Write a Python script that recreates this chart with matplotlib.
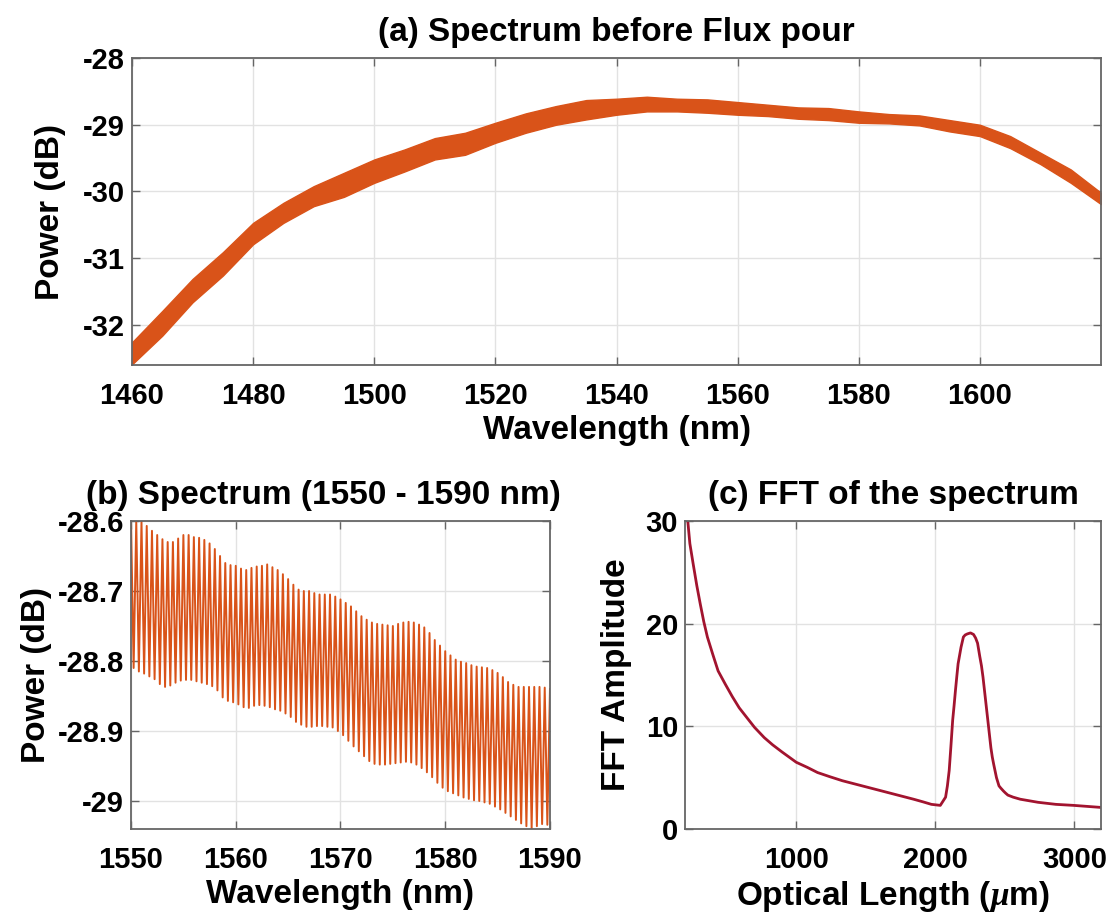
import numpy as np
import matplotlib
matplotlib.use("Agg")
import matplotlib.pyplot as plt
from matplotlib.ticker import FuncFormatter

plt.rcParams["font.family"] = ["Liberation Sans", "DejaVu Sans"]
plt.rcParams["font.weight"] = "bold"
plt.rcParams["axes.unicode_minus"] = False
plt.rcParams["mathtext.fontset"] = "custom"
plt.rcParams["mathtext.rm"] = "Liberation Sans:bold"
plt.rcParams["mathtext.it"] = "Liberation Serif:italic"

ORANGE = "#D95319"
CRIMSON = "#A2142F"

# (a) full spectrum: band edges
wl_a = [1460, 1465, 1470, 1475, 1480, 1485, 1490, 1495, 1500, 1505, 1510,
        1515, 1520, 1525, 1530, 1535, 1540, 1545, 1550, 1555, 1560, 1565,
        1570, 1575, 1580, 1585, 1590, 1595, 1600, 1605, 1610, 1615, 1620]
upper_a = [-32.26, -31.79, -31.31, -30.91, -30.47, -30.17, -29.92, -29.72,
           -29.52, -29.37, -29.20, -29.12, -28.97, -28.83, -28.72, -28.63,
           -28.61, -28.58, -28.61, -28.62, -28.66, -28.70, -28.74, -28.75,
           -28.80, -28.84, -28.86, -28.93, -29.00, -29.17, -29.42, -29.67,
           -30.02]
lower_a = [-32.59, -32.16, -31.66, -31.26, -30.79, -30.47, -30.22, -30.08,
           -29.87, -29.70, -29.52, -29.45, -29.27, -29.12, -29.00, -28.92,
           -28.85, -28.80, -28.80, -28.82, -28.85, -28.87, -28.91, -28.93,
           -28.97, -28.98, -29.01, -29.10, -29.17, -29.35, -29.59, -29.87,
           -30.19]

# (b) fringe tops (every 0.5 nm from 1550) and bottoms (in between)
tops_b = [-28.600, -28.600, -28.600, -28.607, -28.614, -28.620, -28.626, -28.630, -28.630, -28.625,
          -28.620, -28.620, -28.623, -28.624, -28.627, -28.632, -28.640, -28.650, -28.660, -28.663,
          -28.664, -28.668, -28.670, -28.667, -28.665, -28.664, -28.662, -28.666, -28.670, -28.676,
          -28.683, -28.691, -28.698, -28.700, -28.700, -28.703, -28.705, -28.705, -28.705, -28.708,
          -28.712, -28.717, -28.722, -28.729, -28.736, -28.741, -28.745, -28.747, -28.748, -28.749,
          -28.750, -28.747, -28.745, -28.744, -28.745, -28.748, -28.752, -28.760, -28.770, -28.778,
          -28.786, -28.792, -28.798, -28.801, -28.803, -28.806, -28.808, -28.809, -28.810, -28.813,
          -28.817, -28.823, -28.830, -28.834, -28.837, -28.837, -28.837, -28.837, -28.837, -28.838,
          -28.840]
bottoms_b = [-28.810, -28.815, -28.818, -28.822, -28.826, -28.833, -28.837, -28.835, -28.831, -28.828,
             -28.827, -28.827, -28.829, -28.831, -28.833, -28.836, -28.842, -28.852, -28.857, -28.859,
             -28.862, -28.866, -28.867, -28.864, -28.863, -28.864, -28.866, -28.869, -28.871, -28.875,
             -28.880, -28.887, -28.891, -28.894, -28.894, -28.893, -28.893, -28.894, -28.895, -28.900,
             -28.906, -28.914, -28.922, -28.929, -28.936, -28.943, -28.947, -28.948, -28.948, -28.947,
             -28.946, -28.945, -28.944, -28.945, -28.948, -28.953, -28.959, -28.966, -28.974, -28.981,
             -28.986, -28.989, -28.992, -28.995, -28.997, -28.999, -29.000, -29.002, -29.004, -29.008,
             -29.012, -29.017, -29.022, -29.027, -29.032, -29.036, -29.040, -29.036, -29.033, -29.034]

# (c) FFT of the spectrum
opl_c = [200, 220, 235, 259, 285, 310, 335, 361, 400, 438, 490, 540, 590,
         642, 700, 770, 830, 898, 1000, 1080, 1153, 1240, 1332, 1460, 1588,
         1716, 1844, 1910, 1972, 2036, 2074, 2087, 2100, 2112, 2125, 2135,
         2145, 2155, 2164, 2185, 2202, 2215, 2230, 2253, 2275, 2290, 2304,
         2320, 2332, 2343, 2362, 2381, 2400, 2410, 2420, 2440, 2458, 2470,
         2490, 2505, 2522, 2560, 2611, 2739, 2867, 2995, 3192]
amp_c = [33.5, 30.0, 27.8, 25.8, 23.7, 21.9, 20.2, 18.7, 17.0, 15.4, 14.1,
         12.9, 11.8, 10.9, 9.9, 8.9, 8.2, 7.5, 6.5, 6.0, 5.5, 5.1, 4.7, 4.25,
         3.8, 3.35, 2.9, 2.65, 2.4, 2.3, 3.1, 4.2, 5.7, 8.0, 10.6, 12.0, 13.5,
         14.9, 16.1, 17.7, 18.7, 18.9, 19.0, 19.1, 18.95, 18.6, 18.1, 16.8,
         15.9, 14.8, 12.5, 10.2, 7.9, 7.0, 6.3, 5.0, 4.2, 4.0, 3.7, 3.5, 3.3,
         3.1, 2.9, 2.6, 2.4, 2.3, 2.1]

TICK_FS = 21
LABEL_FS = 24
AX_COLOR = "#666666"


def style(ax):
    ax.grid(True, color="#e2e2e2", linewidth=1.0)
    ax.set_axisbelow(True)
    for s in ax.spines.values():
        s.set_color(AX_COLOR)
        s.set_linewidth(1.3)
    ax.tick_params(direction="in", top=True, right=True, length=6,
                   width=1.0, color=AX_COLOR, labelsize=TICK_FS)
    ax.tick_params(axis="x", pad=12)
    ax.tick_params(axis="y", pad=5)


fig = plt.figure(figsize=(11.16, 9.21), dpi=100)

# (a)
ax_a = fig.add_axes([0.1183, 0.6037, 0.8683, 0.3333])
ax_a.fill_between(wl_a, lower_a, upper_a, color=ORANGE, linewidth=1.0,
                  edgecolor=ORANGE)
ax_a.set_xlim(1460, 1620)
ax_a.set_ylim(-32.6, -28)
ax_a.set_xticks(range(1460, 1601, 20))
ax_a.set_yticks([-32, -31, -30, -29, -28])
style(ax_a)
ax_a.set_title("(a) Spectrum before Flux pour", fontsize=LABEL_FS,
               fontweight="bold", pad=12)
ax_a.set_xlabel("Wavelength (nm)", fontsize=LABEL_FS, fontweight="bold",
                labelpad=4)
ax_a.set_ylabel("Power (dB)", fontsize=LABEL_FS, fontweight="bold",
                labelpad=12)

# (b)
x_top = np.arange(1550, 1590.01, 0.5)
x_b = np.empty(len(tops_b) + len(bottoms_b))
y_b = np.empty_like(x_b)
x_b[0::2] = x_top
x_b[1::2] = x_top[:-1] + 0.25
y_b[0::2] = tops_b
y_b[1::2] = bottoms_b

ax_b = fig.add_axes([0.1174, 0.0999, 0.3754, 0.3344])
ax_b.plot(x_b, y_b, color=ORANGE, linewidth=1.4)
ax_b.set_xlim(1550, 1590)
ax_b.set_ylim(-29.04, -28.6)
ax_b.set_xticks([1550, 1560, 1570, 1580, 1590])
ax_b.set_yticks([-29.0, -28.9, -28.8, -28.7, -28.6])
ax_b.yaxis.set_major_formatter(FuncFormatter(lambda v, p: "%g" % round(v, 2)))
style(ax_b)
ax_b.set_title("(b) Spectrum (1550 - 1590 nm)", fontsize=LABEL_FS,
               fontweight="bold", pad=12, x=0.46)
ax_b.set_xlabel("Wavelength (nm)", fontsize=LABEL_FS, fontweight="bold",
                labelpad=4)
ax_b.set_ylabel("Power (dB)", fontsize=LABEL_FS, fontweight="bold",
                labelpad=4)

# (c)
ax_c = fig.add_axes([0.6138, 0.0999, 0.3728, 0.3344])
ax_c.plot(opl_c, amp_c, color=CRIMSON, linewidth=2.0)
ax_c.set_xlim(200, 3192)
ax_c.set_ylim(0, 30)
ax_c.set_xticks([1000, 2000, 3000])
ax_c.set_yticks([0, 10, 20, 30])
style(ax_c)
ax_c.set_title("(c) FFT of the spectrum", fontsize=LABEL_FS,
               fontweight="bold", pad=12)
ax_c.set_xlabel(r"Optical Length ($\mu$m)", fontsize=LABEL_FS,
                fontweight="bold", labelpad=4)
ax_c.set_ylabel("FFT Amplitude", fontsize=LABEL_FS, fontweight="bold",
                labelpad=10)

fig.savefig("out.png", dpi=100)
